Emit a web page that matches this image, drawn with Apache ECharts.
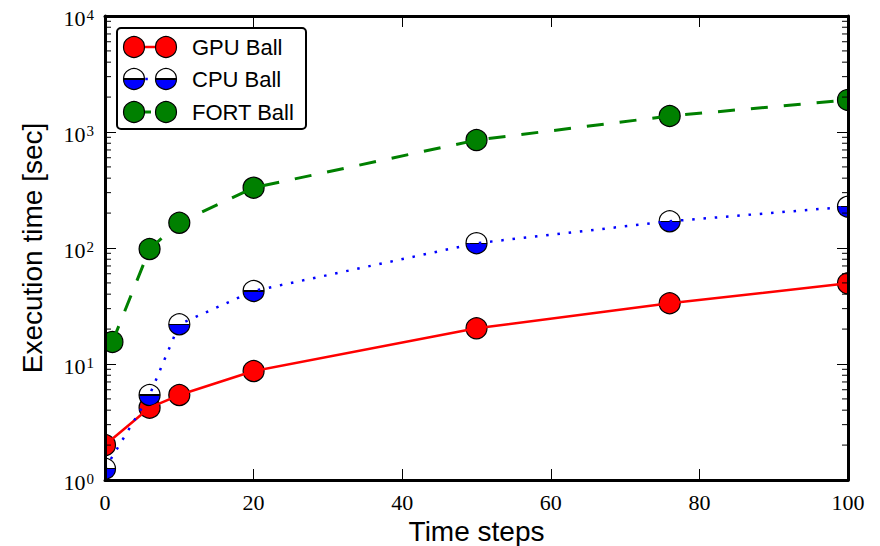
<!DOCTYPE html>
<html>
<head>
<meta charset="utf-8">
<script src="https://cdn.jsdelivr.net/npm/echarts@6/dist/echarts.min.js"></script>
<style>
  html, body { margin: 0; padding: 0; background: #fff; }
  #chart { width: 880px; height: 546px; }
</style>
</head>
<body>
<div id="chart"></div>
<script>
// Time steps at which each run was measured
const gpuSteps  = [0, 6, 10, 20, 50, 76, 100];
const cpuSteps  = [0, 6, 10, 20, 50, 76, 100];
const fortSteps = [1, 6, 10, 20, 50, 76, 100];

// Execution time in seconds
const gpuTimes  = [2.0, 4.2, 5.4, 8.7, 20.3, 33.4, 49.6];
const cpuTimes  = [1.25, 5.4, 22, 42.6, 110, 170, 227];
const fortTimes = [15.5, 98, 165, 331, 852, 1374, 1890];

// Axis ticks
const xTicks = [0, 20, 40, 60, 80, 100];
const yDecades = [0, 1, 2, 3, 4];
const seriesNames = ['GPU Ball', 'CPU Ball', 'FORT Ball'];

// plot frame (pixels)
const G = { left: 105, right: 32, top: 16, bottom: 66 };

const SERIF = '"Liberation Serif", "DejaVu Serif", serif';
const SANS = '"Liberation Sans", Arial, sans-serif';

const RED = '#ff0000', BLUE = '#0000ff', GREEN = '#008000';
const halfStops = [
  { offset: 0, color: '#ffffff' }, { offset: 0.47, color: '#ffffff' },
  { offset: 0.47, color: '#000000' }, { offset: 0.53, color: '#000000' },
  { offset: 0.53, color: BLUE }, { offset: 1, color: BLUE }
];
const halfFill = () => new echarts.graphic.LinearGradient(0, 0, 0, 1, halfStops);
const dotDash = [2.5, 8.8];
const longDash = [17, 16];
const MARKER_R = 10.5;

// minor ticks of the log axis: 2..9 within every decade
const minorTicks = [];
for (let k = yDecades[0]; k < yDecades[yDecades.length - 1]; k++) {
  for (let m = 2; m <= 9; m++) minorTicks.push(m * Math.pow(10, k));
}

const pair = (xs, ys) => xs.map((x, i) => [x, ys[i]]);

const frameLine = { show: true, onZero: false, lineStyle: { color: '#000', width: 3 } };
const inTick = { show: true, inside: true, length: 11, lineStyle: { color: '#000', width: 1 } };

const AXIS_Z = 10;

// connecting line of one run
function lineSeries(name, xs, ys, color, width, dash) {
  return {
    name: name, type: 'line', data: pair(xs, ys), z: 2,
    symbol: 'none', clip: true,
    lineStyle: { color: color, width: width, type: dash || 'solid' }
  };
}
// circular markers of one run, clipped to the plot frame
function markerSeries(name, xs, ys, fill) {
  return {
    name: name, type: 'custom', coordinateSystem: 'cartesian2d', data: pair(xs, ys), z: 2,
    clip: true, encode: { x: 0, y: 1 },
    renderItem: (params, api) => {
      const p = api.coord([api.value(0), api.value(1)]);
      return {
        type: 'circle', shape: { cx: p[0], cy: p[1], r: MARKER_R },
        style: { fill: typeof fill === 'function' ? fill() : fill, stroke: '#000', lineWidth: 1.2 }
      };
    }
  };
}

const chart = echarts.init(document.getElementById('chart'), null, { renderer: 'svg' });

const option = {
  animation: false,
  backgroundColor: '#fff',
  grid: {
    left: G.left, right: G.right, top: G.top, bottom: G.bottom,
    containLabel: false, outerBoundsMode: 'none'
  },
  xAxis: [
    {
      type: 'value', min: xTicks[0], max: xTicks[xTicks.length - 1], interval: xTicks[1] - xTicks[0],
      position: 'bottom', z: AXIS_Z,
      axisLine: frameLine, axisTick: inTick, splitLine: { show: false },
      axisLabel: { margin: 11, color: '#000', fontFamily: SERIF, fontSize: 22 },
      name: 'Time steps', nameLocation: 'middle', nameGap: 31,
      nameTextStyle: { fontFamily: SANS, fontSize: 28, color: '#000' }
    },
    {
      type: 'value', min: xTicks[0], max: xTicks[xTicks.length - 1], interval: xTicks[1] - xTicks[0],
      position: 'top', z: AXIS_Z,
      axisLine: frameLine, axisTick: inTick, splitLine: { show: false },
      axisLabel: { show: false }
    }
  ],
  yAxis: [
    {
      type: 'log', logBase: 10, min: Math.pow(10, yDecades[0]), max: Math.pow(10, yDecades[yDecades.length - 1]),
      position: 'left', z: AXIS_Z,
      axisLine: frameLine, axisTick: inTick, splitLine: { show: false },
      axisLabel: {
        margin: 11, color: '#000', padding: [4, 0, 0, 0],
        formatter: v => '{b|10}{s|' + Math.round(Math.log10(v)) + '}',
        rich: {
          b: { fontFamily: SERIF, fontSize: 22, color: '#000', lineHeight: 22 },
          s: { fontFamily: SERIF, fontSize: 15, color: '#000', lineHeight: 15, verticalAlign: 'top', padding: [0, 0, 0, 1] }
        }
      },
      name: 'Execution time [sec]', nameLocation: 'middle', nameGap: 59,
      nameTextStyle: { fontFamily: SANS, fontSize: 28, color: '#000' }
    },
    {
      type: 'log', logBase: 10, min: Math.pow(10, yDecades[0]), max: Math.pow(10, yDecades[yDecades.length - 1]),
      position: 'right', z: AXIS_Z,
      axisLine: frameLine, axisTick: inTick, splitLine: { show: false },
      axisLabel: { show: false }
    }
  ],
  series: [
    lineSeries(seriesNames[0], gpuSteps, gpuTimes, RED, 2.5),
    markerSeries(seriesNames[0], gpuSteps, gpuTimes, RED),
    lineSeries(seriesNames[1], cpuSteps, cpuTimes, BLUE, 2.5, dotDash),
    markerSeries(seriesNames[1], cpuSteps, cpuTimes, halfFill),
    lineSeries(seriesNames[2], fortSteps, fortTimes, GREEN, 3, longDash),
    markerSeries(seriesNames[2], fortSteps, fortTimes, GREEN),
    {
      // minor ticks on the left and right log axes
      type: 'custom', coordinateSystem: 'cartesian2d', silent: true, z: AXIS_Z + 1, clip: false,
      data: minorTicks.map(v => [xTicks[0], v]),
      renderItem: (params, api) => {
        const v = api.value(1);
        const l = api.coord([xTicks[0], v]);
        const r = api.coord([xTicks[xTicks.length - 1], v]);
        const st = { stroke: '#000', lineWidth: 1 };
        return {
          type: 'group', children: [
            { type: 'line', shape: { x1: l[0], y1: l[1], x2: l[0] + 6, y2: l[1] }, style: st },
            { type: 'line', shape: { x1: r[0] - 6, y1: r[1], x2: r[0], y2: r[1] }, style: st }
          ]
        };
      }
    }
  ]
};

// legend box drawn above the series
const LG = { x: 117, y: 28, w: 189, h: 101, rowY: [47, 79, 112], m1: 134, m2: 166, tx: 192 };
const elements = [{
  type: 'rect', shape: { x: LG.x, y: LG.y, width: LG.w, height: LG.h, r: 4 },
  style: { fill: '#fff', stroke: '#000', lineWidth: 2 }
}];
const legendStyles = [
  { line: RED, dash: null, fill: () => RED, width: 2.5 },
  { line: BLUE, dash: dotDash, fill: halfFill, width: 2.5 },
  { line: GREEN, dash: longDash, fill: () => GREEN, width: 3 }
];
seriesNames.forEach((name, i) => {
  const s = legendStyles[i];
  const y = LG.rowY[i];
  elements.push(
    { type: 'line', shape: { x1: LG.m1, y1: y, x2: LG.m2, y2: y },
      style: { stroke: s.line, lineWidth: s.width, lineDash: s.dash } },
    { type: 'circle', shape: { cx: LG.m1, cy: y, r: MARKER_R }, style: { fill: s.fill(), stroke: '#000', lineWidth: 1.2 } },
    { type: 'circle', shape: { cx: LG.m2, cy: y, r: MARKER_R }, style: { fill: s.fill(), stroke: '#000', lineWidth: 1.2 } },
    { type: 'text', x: LG.tx, y: y,
      style: { text: name, fill: '#000', font: '22px ' + SANS, verticalAlign: 'middle', align: 'left' } }
  );
});
option.graphic = { z: 5, elements: elements };

chart.setOption(option);
</script>
</body>
</html>
